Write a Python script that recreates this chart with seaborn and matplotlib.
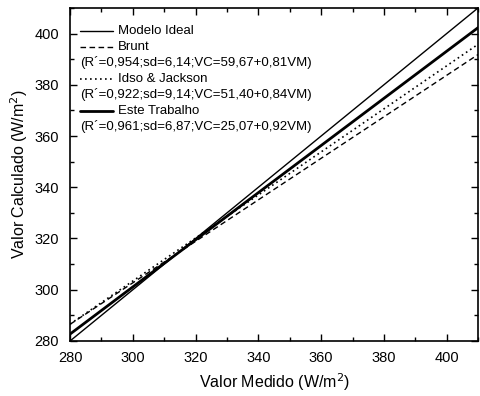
import pandas as pd
import seaborn as sns
import matplotlib.pyplot as plt
from matplotlib.ticker import MultipleLocator

# end points of each regression line (W/m2)
x_medido = [280, 410]
ideal = [280.0, 410.0]
brunt = [286.5, 391.8]
idso = [286.6, 395.8]
este = [282.7, 402.3]

labels = ['Modelo Ideal', 'Brunt', 'Idso & Jackson', 'Este Trabalho']
stats = [None,
         '(R´=0,954;sd=6,14;VC=59,67+0,81VM)',
         '(R´=0,922;sd=9,14;VC=51,40+0,84VM)',
         '(R´=0,961;sd=6,87;VC=25,07+0,92VM)']

sns.set_style('ticks')
plt.rcParams['font.family'] = ['Liberation Sans', 'DejaVu Sans']
plt.rcParams['text.color'] = 'black'
plt.rcParams['axes.labelcolor'] = 'black'
plt.rcParams['xtick.color'] = 'black'
plt.rcParams['ytick.color'] = 'black'

df = pd.DataFrame({
    'medido': x_medido * 4,
    'calculado': ideal + brunt + idso + este,
    'modelo': [m for m in labels for _ in x_medido],
})

styles = {
    'Modelo Ideal': dict(ls='-', lw=1.0),
    'Brunt': dict(ls=(0, (4, 2.5)), lw=1.0),
    'Idso & Jackson': dict(ls=(0, (1, 2)), lw=1.2),
    'Este Trabalho': dict(ls='-', lw=2.0),
}

fig = plt.figure(figsize=(4.8, 3.96), dpi=100)
ax = fig.add_axes([0.146, 0.139, 0.85, 0.841])

for m in labels:
    sub = df[df['modelo'] == m]
    sns.lineplot(data=sub, x='medido', y='calculado', ax=ax, color='black',
                 legend=False, **styles[m])

ax.set_xlim(280, 410)
ax.set_ylim(280, 410)
ax.xaxis.set_major_locator(MultipleLocator(20))
ax.xaxis.set_minor_locator(MultipleLocator(10))
ax.yaxis.set_major_locator(MultipleLocator(20))
ax.yaxis.set_minor_locator(MultipleLocator(10))
ax.tick_params(which='both', direction='in', top=True, right=True,
               labelsize=10.5, width=1.0, color='black')
ax.tick_params(which='major', length=5)
ax.tick_params(which='minor', length=3)
ax.tick_params(axis='x', pad=7)
ax.tick_params(axis='y', pad=8)
for s in ax.spines.values():
    s.set_linewidth(1.2)
    s.set_color('black')

ax.set_xlabel('Valor Medido (W/m$^2$)', fontsize=11.5, labelpad=5)
ax.set_ylabel('Valor Calculado (W/m$^2$)', fontsize=11.5, labelpad=3)

# hand-built legend so the stats lines start at the left edge
y0 = 0.931
dy = 0.048
row = 0
for m, st in zip(labels, stats):
    yy = y0 - row * dy
    ax.plot([0.025, 0.105], [yy, yy], transform=ax.transAxes, color='black',
            **styles[m])
    ax.text(0.118, yy, m, transform=ax.transAxes, va='center', fontsize=9.5)
    row += 1
    if st:
        ax.text(0.025, y0 - row * dy, st, transform=ax.transAxes,
                va='center', fontsize=9.5)
        row += 1

fig.savefig('out.png', dpi=100)
